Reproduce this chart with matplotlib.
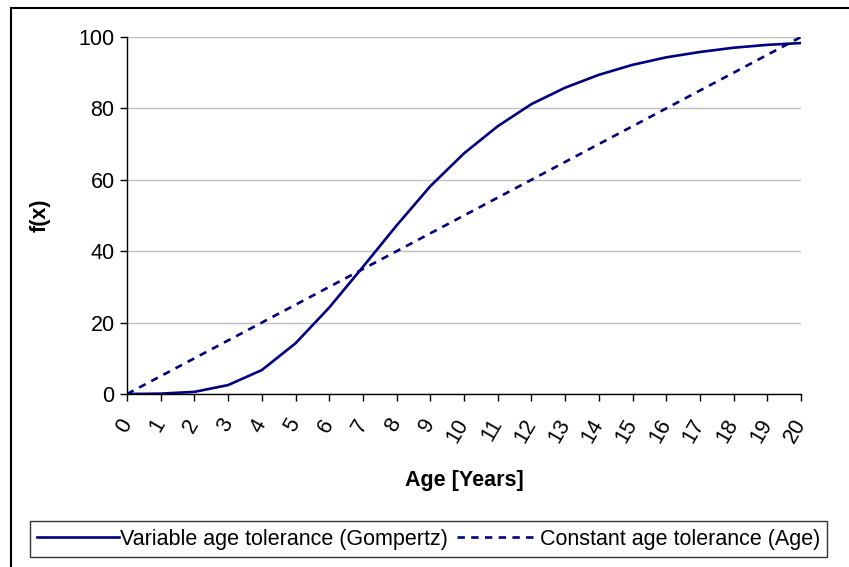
import numpy as np
import matplotlib.pyplot as plt
from matplotlib.patches import Rectangle

plt.rcParams['font.family'] = ['Liberation Sans', 'DejaVu Sans']

# ages and the two tolerance curves
age = list(range(0, 21))
gompertz = [0.0, 0.1, 0.6, 2.5, 6.7, 14.2, 24.2, 35.6, 47.2, 58.2, 67.4,
            75.0, 81.2, 85.8, 89.4, 92.2, 94.3, 95.8, 97.0, 97.8, 98.3]
constant = [5 * a for a in age]

labels = ['Variable age tolerance (Gompertz)', 'Constant age tolerance (Age)']
navy = '#000080'
fs = 15.5

W, H = 849, 567
fig = plt.figure(figsize=(W / 100, H / 100), dpi=100)
ax = fig.add_axes([127 / W, 1 - 394 / H, (801 - 127) / W, (394 - 37) / H])

ax.plot(age, gompertz, color=navy, lw=1.9, label=labels[0])
ax.plot(age, constant, color=navy, lw=1.9, ls=(0, (2.8, 2.4)), label=labels[1])

ax.set_xlim(0, 20)
ax.set_ylim(0, 100)
ax.set_xticks(age)
ax.set_yticks(range(0, 101, 20))
ax.set_xticklabels([str(a) for a in age], rotation=60, ha='right', va='center',
                   rotation_mode='anchor', fontsize=fs)
ax.tick_params(axis='y', labelsize=fs, length=5, width=1, direction='out', pad=4)
ax.tick_params(axis='x', length=5, width=1, direction='out', pad=14)
ax.yaxis.grid(True, color='#c0c0c0', lw=1)
ax.set_axisbelow(True)
for s in ['top', 'right']:
    ax.spines[s].set_visible(False)
for s in ['left', 'bottom']:
    ax.spines[s].set_linewidth(1)
ax.set_xlabel('Age [Years]', fontsize=fs, fontweight='bold', labelpad=17)
ax.set_ylabel('f(x)', fontsize=fs, fontweight='bold', labelpad=20)

leg = fig.legend(loc='center', bbox_to_anchor=(428.5 / W, 1 - 539 / H), ncol=2,
                 fontsize=fs, frameon=True, fancybox=False, handlelength=3.8,
                 handletextpad=0.05, columnspacing=0.4, borderpad=0.35,
                 borderaxespad=0)
leg.get_frame().set_edgecolor('black')
leg.get_frame().set_linewidth(1)

# outer chart border (runs off the right and bottom edges)
fig.patches.append(Rectangle((11 / W, -0.05), 1.0, 1 - 8 / H + 0.05,
                             transform=fig.transFigure, fill=False,
                             edgecolor='black', lw=1.5))

fig.savefig('out.png', dpi=100)
